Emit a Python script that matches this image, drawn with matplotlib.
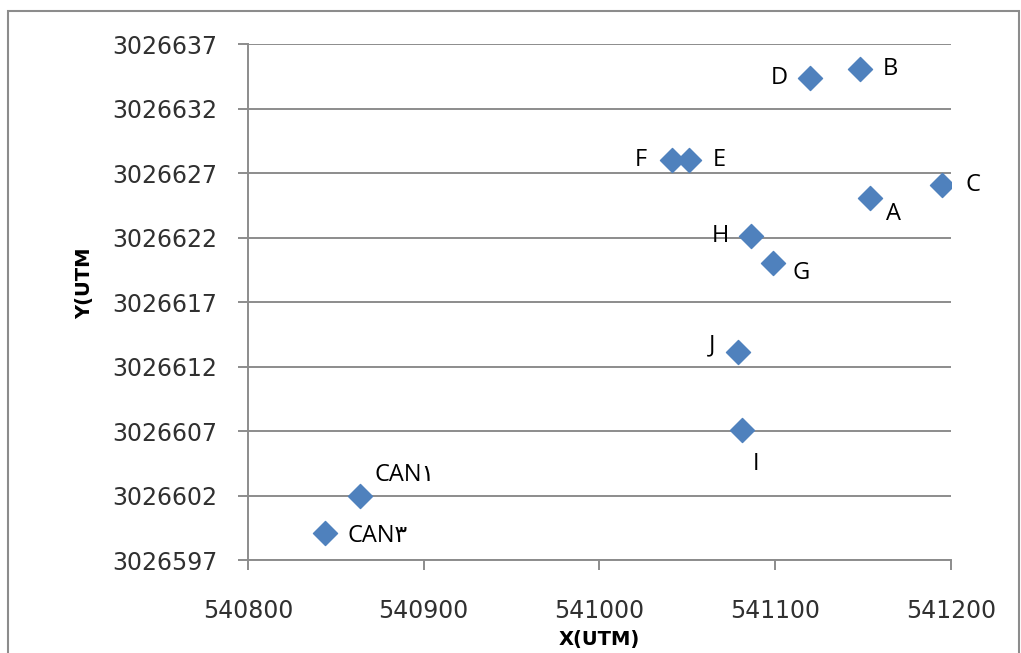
import matplotlib.pyplot as plt
from matplotlib.patches import Rectangle

names = ["A", "B", "C", "D", "E", "F", "G", "H", "I", "J", "CAN١", "CAN٣"]
x_utm = [541154, 541148, 541195, 541120, 541051, 541041, 541099, 541086,
         541081, 541079, 540864, 540844]
y_utm = [3026625.1, 3026635.1, 3026626.1, 3026634.4, 3026628.0, 3026628.0,
         3026620.0, 3026622.1, 3026607.1, 3026613.1, 3026602.0, 3026599.1]

# label offsets in points (dx, dy, ha)
offsets = {
    "A": (17, -12, "center"), "B": (22, 0, "center"), "C": (22, 0, "center"),
    "D": (-22, 0, "center"), "E": (22, 0, "center"), "F": (-22, 0, "center"),
    "G": (20, -7, "center"), "H": (-22, 0, "center"), "I": (10, -25, "center"),
    "J": (-19, 5, "center"), "CAN١": (10, 15, "left"), "CAN٣": (16, -2, "left"),
}

plt.rcParams["font.family"] = ["DejaVu Sans"]

fig = plt.figure(figsize=(10.21, 6.53), dpi=100)
ax = fig.add_axes([0.2429, 0.1424, 0.6885, 0.7902])

ax.scatter(x_utm, y_utm, marker="D", s=150, color="#4F81BD", zorder=3)
for n, xv, yv in zip(names, x_utm, y_utm):
    dx, dy, ha = offsets[n]
    ax.annotate(n, (xv, yv), xytext=(dx, dy), textcoords="offset points",
                ha=ha, va="center", fontsize=17, color="black",
                family=["Open Sans", "DejaVu Sans"])

ax.set_xlim(540800, 541200)
ax.set_ylim(3026597, 3026637)
ax.set_xticks(range(540800, 541201, 100))
ax.set_yticks(range(3026597, 3026638, 5))
ax.ticklabel_format(useOffset=False, style="plain")
ax.grid(axis="y", color="#8c8c8c", linewidth=1.4)
ax.set_axisbelow(True)
for side in ["top", "right"]:
    ax.spines[side].set_visible(False)
for side in ["left", "bottom"]:
    ax.spines[side].set_color("#8c8c8c")
    ax.spines[side].set_linewidth(1.4)
ax.tick_params(axis="both", direction="out", length=7, width=1.4,
               color="#8c8c8c", labelsize=17, labelcolor="#303030")
ax.tick_params(axis="y", pad=15)
ax.tick_params(axis="x", pad=21)

ax.set_xlabel("X(UTM)", fontsize=14, fontweight="bold")
ax.set_ylabel("Y(UTM", fontsize=14, fontweight="bold")
ax.xaxis.set_label_coords(0.5, -0.136)
ax.yaxis.set_label_coords(-0.219, 0.537)

fig.patches.append(Rectangle((0.008, -0.01), 0.99, 0.993, transform=fig.transFigure,
                             fill=False, edgecolor="#8c8c8c", linewidth=1.5))

fig.savefig("out.png", dpi=100)
plt.close(fig)
